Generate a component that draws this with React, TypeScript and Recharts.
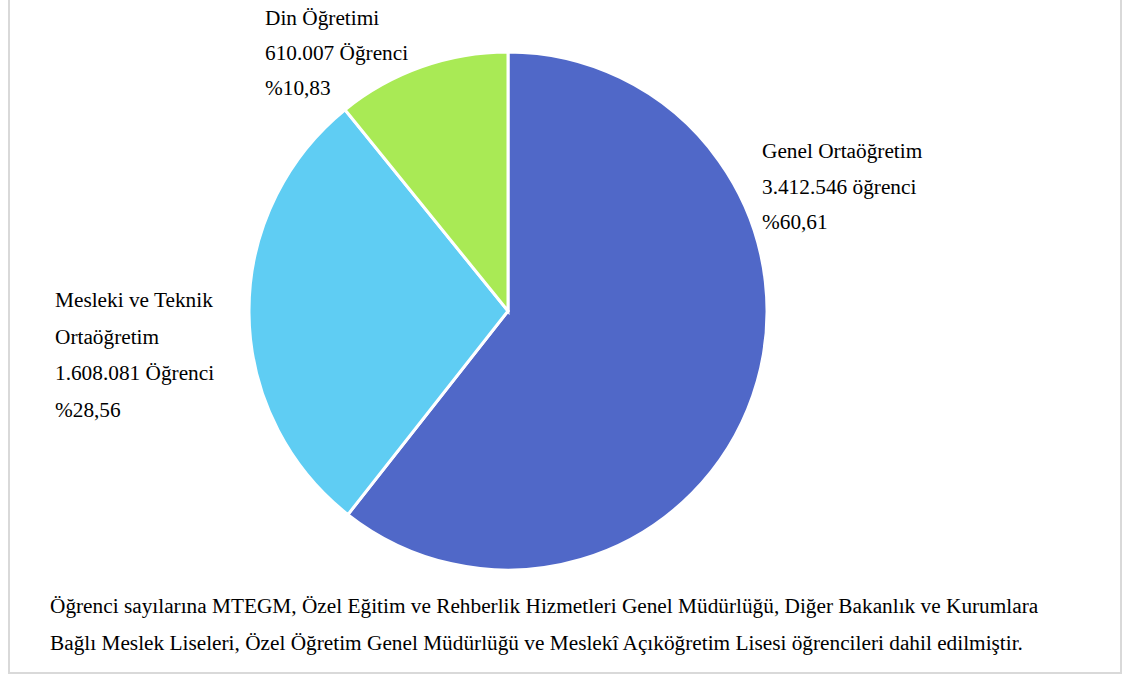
import { PieChart, Pie, Cell } from "recharts"

const categories = ["Genel Ortaöğretim", "Mesleki ve Teknik Ortaöğretim", "Din Öğretimi"]
const students = [3412546, 1608081, 610007]
const countLabels = ["3.412.546 öğrenci", "1.608.081 Öğrenci", "610.007 Öğrenci"]
const percentLabels = ["%60,61", "%28,56", "%10,83"]
const colors = ["#5068C8", "#5FCDF3", "#A9EA55"]
const footnote = [
  "Öğrenci sayılarına MTEGM, Özel Eğitim ve Rehberlik Hizmetleri Genel Müdürlüğü, Diğer Bakanlık ve Kurumlara",
  "Bağlı Meslek Liseleri, Özel Öğretim Genel Müdürlüğü ve Meslekî Açıköğretim Lisesi öğrencileri dahil edilmiştir.",
]

const data = categories.map((name, i) => ({ name, value: students[i] }))

// where each label block sits, and how the name wraps
const labelBoxes = [
  { left: 762, top: 134, lines: ["Genel Ortaöğretim"], lh: 35.5 },
  { left: 55, top: 282, lines: ["Mesleki ve Teknik", "Ortaöğretim"], lh: 36.5 },
  { left: 265, top: 1, lines: ["Din Öğretimi"], lh: 35 },
]

const font = "'Times New Roman', 'Liberation Serif', serif"
const fs = 21.3

export default function App() {
  return (
    <div style={{ position: "absolute", left: 0, top: 0, width: 1127, height: 674, background: "#fff", fontFamily: font, color: "#000" }}>
      <div
        style={{
          position: "absolute",
          left: 8,
          top: -4,
          width: 1110,
          height: 674,
          border: "2px solid #d9d9d9",
        }}
      />
      <div style={{ position: "absolute", left: 0, top: 0 }}>
        <PieChart width={1127} height={674} margin={{ top: 0, right: 0, bottom: 0, left: 0 }}>
          <Pie
            data={data}
            dataKey="value"
            cx={508}
            cy={311}
            outerRadius={259}
            startAngle={90}
            endAngle={-270}
            stroke="#fff"
            strokeWidth={3}
            isAnimationActive={false}
          >
            {data.map((d, i) => (
              <Cell key={d.name} fill={colors[i]} />
            ))}
          </Pie>
        </PieChart>
      </div>
      {labelBoxes.map((b, i) => (
        <div
          key={i}
          style={{ position: "absolute", left: b.left, top: b.top, fontSize: fs, lineHeight: `${b.lh}px`, whiteSpace: "nowrap" }}
        >
          {b.lines.map((l) => (
            <div key={l}>{l}</div>
          ))}
          <div>{countLabels[i]}</div>
          <div>{percentLabels[i]}</div>
        </div>
      ))}
      <div style={{ position: "absolute", left: 50, top: 588, fontSize: fs, lineHeight: "37px", whiteSpace: "nowrap" }}>
        {footnote.map((l) => (
          <div key={l}>{l}</div>
        ))}
      </div>
    </div>
  )
}
